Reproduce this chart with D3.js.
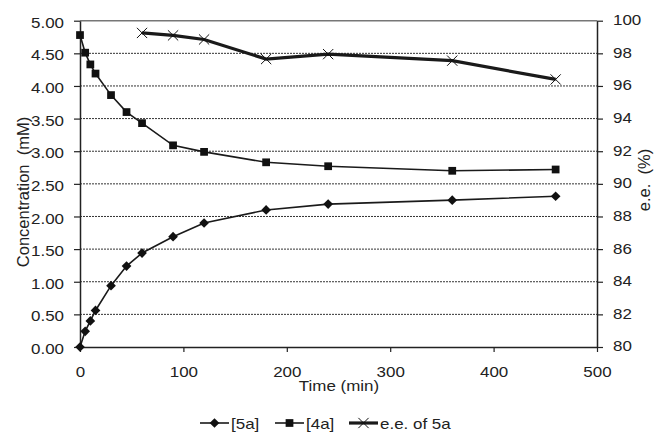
<!DOCTYPE html>
<html>
<head>
<meta charset="utf-8">
<script src="https://cdn.jsdelivr.net/npm/d3@7"></script>
<style>
  body { margin: 0; background: #fff; }
  svg { display: block; font-family: "Liberation Sans", Arial, sans-serif; }
</style>
</head>
<body>
<svg width="655" height="434"></svg>
<script>
// ---------------- data ----------------
var times5a = [0, 5, 10, 15, 30, 45, 60, 90, 120, 180, 240, 360, 460];
var conc5a  = [0, 0.24, 0.40, 0.56, 0.94, 1.24, 1.44, 1.69, 1.90, 2.10, 2.19, 2.25, 2.31];

var times4a = [0, 5, 10, 15, 30, 45, 60, 90, 120, 180, 240, 360, 460];
var conc4a  = [4.78, 4.51, 4.33, 4.19, 3.86, 3.60, 3.43, 3.09, 2.99, 2.83, 2.77, 2.70, 2.72];

var timesEE = [60, 90, 120, 180, 240, 360, 460];
var eeVals  = [99.25, 99.1, 98.85, 97.65, 97.95, 97.55, 96.4];

var xTicks = [0, 100, 200, 300, 400, 500];
var yTicks = [0, 0.5, 1, 1.5, 2, 2.5, 3, 3.5, 4, 4.5, 5];
var y2Ticks = [80, 82, 84, 86, 88, 90, 92, 94, 96, 98, 100];

// ---------------- layout ----------------
var svg = d3.select("svg");
var plot = { left: 80, right: 597, top: 20.7, bottom: 347 };

var xScale = d3.scaleLinear().domain([0, 500]).range([plot.left, plot.right]);
var yScale = d3.scaleLinear().domain([0, 5]).range([plot.bottom, plot.top]);
var y2Scale = d3.scaleLinear().domain([80, 100]).range([plot.bottom, plot.top]);

// the original text is a bit wider than plain Arial
var stretch = function(sel) {
  sel.each(function() {
    var len = this.getComputedTextLength();
    this.setAttribute("textLength", len * 1.13);
    this.setAttribute("lengthAdjust", "spacingAndGlyphs");
  });
};

// dotted grid lines
svg.append("g")
  .selectAll("line")
  .data(yTicks.slice(1, -1))
  .enter()
  .append("line")
  .attr("x1", plot.left)
  .attr("x2", plot.right)
  .attr("y1", function(d) { return yScale(d); })
  .attr("y2", function(d) { return yScale(d); })
  .attr("stroke", "#333")
  .attr("stroke-width", 1)
  .attr("stroke-dasharray", "2,1");

// top border
svg.append("line")
  .attr("x1", plot.left).attr("x2", plot.right)
  .attr("y1", plot.top).attr("y2", plot.top)
  .attr("stroke", "#777").attr("stroke-width", 1.5);

// axes
var fontSize = "15px";
var styleAxis = function(g) {
  g.select(".domain").attr("stroke", "#222").attr("stroke-width", 1.5);
  g.selectAll(".tick line").attr("stroke", "#222").attr("stroke-width", 1.2);
  g.selectAll("text").attr("fill", "#222").style("font-size", fontSize)
    .style("font-family", "'Liberation Sans', Arial, sans-serif");
  g.selectAll("text").call(stretch);
};

var xAxis = d3.axisBottom(xScale).tickValues(xTicks).tickSize(5).tickSizeOuter(0).tickPadding(14);
svg.append("g")
  .attr("transform", "translate(0," + plot.bottom + ")")
  .call(xAxis)
  .call(styleAxis);

var yAxis = d3.axisLeft(yScale).tickValues(yTicks).tickFormat(d3.format(".2f"))
  .tickSize(6).tickSizeOuter(0).tickPadding(10);
svg.append("g")
  .attr("transform", "translate(" + plot.left + ",0)")
  .call(yAxis)
  .call(styleAxis)
  .selectAll("text").attr("dy", "0.44em");

var y2Axis = d3.axisRight(y2Scale).tickValues(y2Ticks).tickSize(6).tickSizeOuter(0).tickPadding(10);
svg.append("g")
  .attr("transform", "translate(" + plot.right + ",0)")
  .call(y2Axis)
  .call(styleAxis)
  .selectAll("text").attr("dy", "0.26em");

// axis titles
svg.append("text")
  .attr("transform", "translate(29,192) rotate(-90)")
  .attr("text-anchor", "middle")
  .style("font-size", "16.5px").style("white-space", "pre").attr("fill", "#222")
  .text("Concentration  (mM)");

svg.append("text")
  .attr("transform", "translate(650,180) rotate(-90)")
  .attr("text-anchor", "middle")
  .style("font-size", "16.5px").style("white-space", "pre").attr("fill", "#222")
  .text("e.e.  (%)");

svg.append("text")
  .attr("x", 339).attr("y", 391)
  .attr("text-anchor", "middle")
  .style("font-size", fontSize).attr("fill", "#222")
  .text("Time (min)")
  .call(stretch);

// ---------------- series ----------------
var series5a = times5a.map(function(t, i) { return { x: t, y: conc5a[i] }; });
var series4a = times4a.map(function(t, i) { return { x: t, y: conc4a[i] }; });
var seriesEE = timesEE.map(function(t, i) { return { x: t, y: eeVals[i] }; });

var line = d3.line()
  .x(function(d) { return xScale(d.x); })
  .y(function(d) { return yScale(d.y); });
var line2 = d3.line()
  .x(function(d) { return xScale(d.x); })
  .y(function(d) { return y2Scale(d.y); });

svg.append("path").datum(seriesEE)
  .attr("d", line2).attr("fill", "none")
  .attr("stroke", "#1a1a1a").attr("stroke-width", 3.2);

svg.append("path").datum(series4a)
  .attr("d", line).attr("fill", "none")
  .attr("stroke", "#1a1a1a").attr("stroke-width", 1.6);

svg.append("path").datum(series5a)
  .attr("d", line).attr("fill", "none")
  .attr("stroke", "#1a1a1a").attr("stroke-width", 1.6);

var diamond = d3.symbol().type(d3.symbolDiamond2).size(60);
var square = d3.symbol().type(d3.symbolSquare).size(60);
var cross = d3.symbol().type(d3.symbolX).size(70);

svg.append("g").selectAll("path")
  .data(series5a).enter().append("path")
  .attr("d", diamond)
  .attr("transform", function(d) { return "translate(" + xScale(d.x) + "," + yScale(d.y) + ")"; })
  .attr("fill", "#111");

svg.append("g").selectAll("path")
  .data(series4a).enter().append("path")
  .attr("d", square)
  .attr("transform", function(d) { return "translate(" + xScale(d.x) + "," + yScale(d.y) + ")"; })
  .attr("fill", "#111");

svg.append("g").selectAll("path")
  .data(seriesEE).enter().append("path")
  .attr("d", cross)
  .attr("transform", function(d) { return "translate(" + xScale(d.x) + "," + y2Scale(d.y) + ")"; })
  .attr("fill", "none").attr("stroke", "#111").attr("stroke-width", 1);

// ---------------- legend ----------------
var legendItems = [
  { name: "[5a]", sym: diamond, x: 200, width: 1.6, filled: true },
  { name: "[4a]", sym: square, x: 275, width: 1.6, filled: true },
  { name: "e.e. of 5a", sym: cross, x: 349, width: 3.2, filled: false }
];
var legendY = 423;
var legend = svg.append("g").selectAll("g")
  .data(legendItems).enter().append("g")
  .attr("transform", function(d) { return "translate(" + d.x + "," + legendY + ")"; });

legend.append("line")
  .attr("x1", 0).attr("x2", 29).attr("y1", 0).attr("y2", 0)
  .attr("stroke", "#1a1a1a").attr("stroke-width", function(d) { return d.width; });
legend.append("path")
  .attr("d", function(d) { return d.sym(); })
  .attr("transform", "translate(14.5,0)")
  .attr("fill", function(d) { return d.filled ? "#111" : "none"; })
  .attr("stroke", function(d) { return d.filled ? "none" : "#111"; })
  .attr("stroke-width", 1);
legend.append("text")
  .attr("x", 31).attr("y", 5.5)
  .style("font-size", fontSize).attr("fill", "#222")
  .text(function(d) { return d.name; })
  .call(stretch);
</script>
</body>
</html>
